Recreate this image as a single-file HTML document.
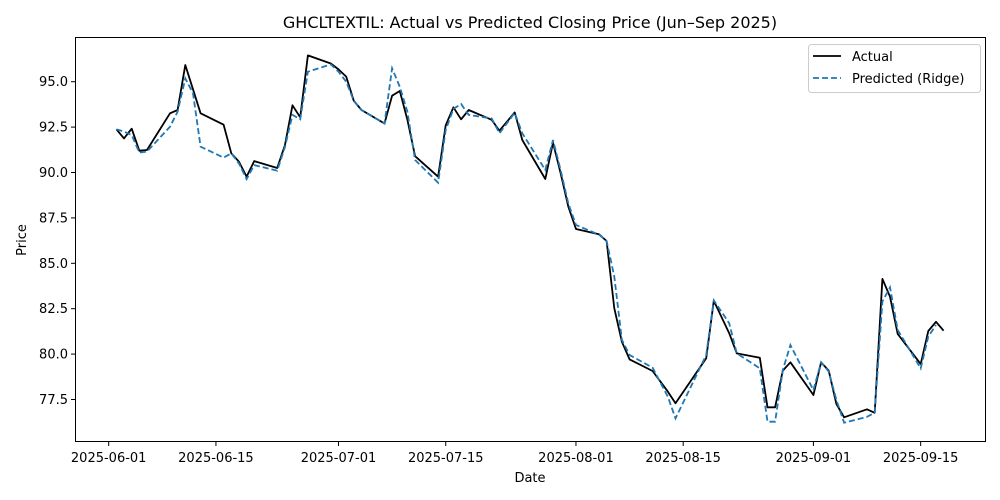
<!DOCTYPE html>
<html><head><meta charset="utf-8"><style>
html,body{margin:0;padding:0;background:#fff;}
svg{display:block;font-family:"DejaVu Sans","Liberation Sans",sans-serif;}
</style></head><body>
<svg id="chart" width="1000" height="500" viewBox="0 0 1000 500" xmlns="http://www.w3.org/2000/svg">
<rect width="1000" height="500" fill="#fff"/>
<text x="530" y="28" text-anchor="middle" font-size="16">GHCLTEXTIL: Actual vs Predicted Closing Price (Jun–Sep 2025)</text>
<g id="grid"></g>
<g id="series"></g>
<rect x="75.5" y="37.5" width="910" height="404" fill="none" stroke="#000" stroke-width="1"/>
<text x="530" y="482" text-anchor="middle" font-size="13">Date</text>
<text x="26" y="240" text-anchor="middle" font-size="13" transform="rotate(-90 26 240)">Price</text>
<g>
<rect x="808.5" y="44.5" width="172" height="48" rx="3" fill="#fff" stroke="#ccc"/>
<line x1="813" y1="56" x2="841" y2="56" stroke="#000" stroke-width="1.8"/>
<text x="852" y="61" font-size="13">Actual</text>
<line x1="813" y1="78" x2="841" y2="78" stroke="#1f77b4" stroke-width="1.8" stroke-dasharray="6,3"/>
<text x="852" y="83" font-size="13">Predicted (Ridge)</text>
</g>
</svg>
<script>
const actualDays=[1,2,3,4,5,8,9,10,11,12,15,16,17,18,19,22,23,24,25,26,29,30,31,32,33,36,37,38,39,40,43,44,45,46,47,50,51,53,54,57,58,59,60,61,64,65,66,67,68,71,73,74,78,79,81,82,85,86,87,88,89,92,93,94,95,96,99,100,101,102,103,106,107,108,109];
const actualValues=[92.38,91.88,92.41,91.2,91.24,93.26,93.44,95.92,94.58,93.26,92.63,91.06,90.6,89.77,90.63,90.25,91.5,93.7,93.04,96.45,96.0,95.68,95.28,93.95,93.44,92.7,94.23,94.49,92.9,90.9,89.77,92.6,93.59,92.93,93.44,92.9,92.3,93.31,91.79,89.64,91.64,89.96,88.12,86.89,86.6,86.23,82.52,80.68,79.71,79.07,77.93,77.29,79.77,82.94,81.15,80.04,79.8,77.07,77.07,79.09,79.55,77.75,79.55,79.09,77.25,76.52,76.96,76.77,84.14,83.16,81.11,79.45,81.27,81.78,81.29];
const predictedValues=[92.38,92.25,92.06,91.1,91.15,92.52,93.35,95.18,94.36,91.42,90.82,91.06,90.5,89.63,90.41,90.1,91.4,93.17,92.93,95.55,95.95,95.55,95.0,93.95,93.44,92.7,95.74,94.72,93.35,90.69,89.44,92.34,93.5,93.77,93.17,92.98,92.16,93.28,92.16,90.14,91.79,90.14,88.3,87.11,86.58,86.23,84.26,80.78,79.95,79.25,77.65,76.46,79.95,82.96,81.7,80.04,79.22,76.28,76.28,79.12,80.5,78.02,79.55,79.04,77.47,76.22,76.55,76.77,82.89,83.68,81.33,79.22,80.96,81.6];
const xTickDays=[0,14,30,44,61,75,92,106];
const xTickLabels=["2025-06-01","2025-06-15","2025-07-01","2025-07-15","2025-08-01","2025-08-15","2025-09-01","2025-09-15"];
const yTicks=[77.5,80.0,82.5,85.0,87.5,90.0,92.5,95.0];

const X=d=>108.7+d*7.66;
const Y=v=>81.7+(95-v)*18.16;
const NS="http://www.w3.org/2000/svg";
const grid=document.getElementById('grid');
const series=document.getElementById('series');
function mk(tag,attrs,parent){const e=document.createElementNS(NS,tag);for(const k in attrs)e.setAttribute(k,attrs[k]);parent.appendChild(e);return e;}
xTickDays.forEach((d,i)=>{
  const x=X(d);
  const t=mk('line',{x1:x,x2:x,y1:441.5,y2:446,stroke:'#000'},grid);
  
  
  const l=mk('text',{x:x,y:462,'text-anchor':'middle','font-size':'13'},grid);
  l.textContent=xTickLabels[i];
  
  
});
yTicks.forEach(v=>{
  const y=Y(v);
  const t=mk('line',{x1:71,x2:75.5,y1:y,y2:y,stroke:'#000'},grid);
  
  
  const l=mk('text',{x:68,y:y+4.5,'text-anchor':'end','font-size':'13'},grid);
  l.textContent=v.toFixed(1);
  
  
});
const aPts=actualDays.map((d,i)=>X(d).toFixed(1)+','+Y(actualValues[i]).toFixed(1)).join(' ');
const pPts=predictedValues.map((v,i)=>X(actualDays[i]).toFixed(1)+','+Y(v).toFixed(1)).join(' ');
const a=mk('polyline',{points:aPts,fill:'none',stroke:'#000','stroke-width':'1.8','stroke-linejoin':'round'},series);


const p=mk('polyline',{points:pPts,fill:'none',stroke:'#1f77b4','stroke-width':'1.8','stroke-dasharray':'6,3'},series);


</script>
</body></html>
